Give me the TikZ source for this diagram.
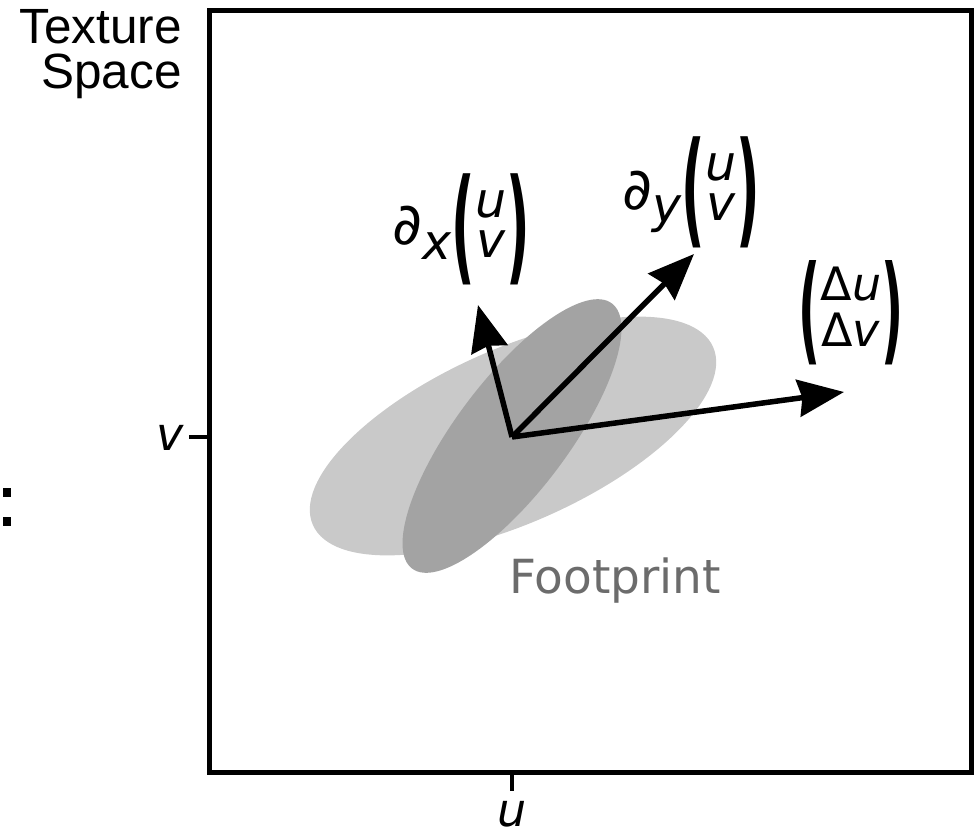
\documentclass[tikz,border=0pt]{standalone}
\usepackage{fontspec}
\usepackage{graphicx}
\usetikzlibrary{arrows.meta}
\setmainfont{Liberation Sans}
\newfontfamily\dejavu{DejaVu Sans}
\definecolor{lightfp}{RGB}{201,201,201}
\definecolor{darkfp}{RGB}{163,163,163}
\definecolor{fptext}{RGB}{108,108,108}
\newcommand\pbr[1]{\ensuremath{\vcenter{\hbox{\scalebox{1.05}[2.55]{\bfseries #1}}}}}
\newcommand\colvec[2]{\pbr{(}\ensuremath{\vcenter{\hbox{\begin{tabular}{@{}c@{}}#1\\#2\end{tabular}}}}\pbr{)}}
\newcommand\pd{{\fontsize{58}{58}\selectfont ∂}}
\tikzset{
  frame/.style={line width=5pt},
  tick/.style={line width=4.5pt},
  vecarrow/.style={line width=5.5pt, -{Stealth[length=46pt,width=37pt,inset=4pt]}},
  lbl/.style={inner sep=0pt, font=\dejavu\fontsize{49}{40}\selectfont},
  title/.style={inner sep=0pt, font=\fontsize{49.5}{45}\selectfont},
}
\begin{document}
\begin{tikzpicture}[x=1pt,y=-1pt]
\useasboundingbox (0,0) rectangle (978,835);
% footprint ellipses
\fill[lightfp, rotate around={24:(513,436)}] (513,436) ellipse (219 and 87);
\fill[darkfp, rotate around={53:(512,436)}] (512,436) ellipse (166 and 56);
% frame and ticks
\draw[frame] (209,10) rectangle (971,772);
\coordinate (vt0) at (209,437);
\coordinate (vt1) at (189,437);
\coordinate (ut0) at (512,772);
\coordinate (ut1) at (512,791);
\draw[tick] (vt0) -- (vt1);
\draw[tick] (ut0) -- (ut1);
% labels
\node[title, anchor=base east] (tex) at (182,43) {Texture};
\node[title, anchor=base east] (spc) at (182,88) {Space};
\node[lbl, anchor=base, font=\dejavu\fontsize{46}{46}\selectfont\itshape] (vl) at (170,450) {v};
\node[lbl, anchor=base, font=\dejavu\fontsize{46}{46}\selectfont\itshape] (ul) at (512,826) {u};
\node[lbl, font=\dejavu\fontsize{47}{47}\selectfont, text=fptext, anchor=base west] (fp) at (509,593) {Footprint};
% vectors
\coordinate (o) at (512,437);
\coordinate (dx) at (478,305);
\coordinate (dy) at (694,254);
\coordinate (dd) at (844,392);
\draw[vecarrow] (o) -- (dx);
\draw[vecarrow] (o) -- (dy);
\draw[vecarrow] (o) -- (dd);
\node[lbl, anchor=east] (ldx) at (530,229) {\raisebox{-9pt}{\pd\raisebox{-15pt}{\itshape x}}\colvec{\itshape u}{\itshape v}};
\node[lbl, anchor=east] (ldy) at (760,192) {\raisebox{-11pt}{\pd\raisebox{-13pt}{\itshape y}}\colvec{\itshape u}{\itshape v}};
\node[lbl, font=\dejavu\fontsize{46}{42}\selectfont] (ldd) at (851,313) {\colvec{Δ\textit{u}}{Δ\textit{v}}};
% stray marks at left edge
\fill (3,488) rectangle (11,497);
\fill (3,517) rectangle (11,526);
\end{tikzpicture}
\end{document}
